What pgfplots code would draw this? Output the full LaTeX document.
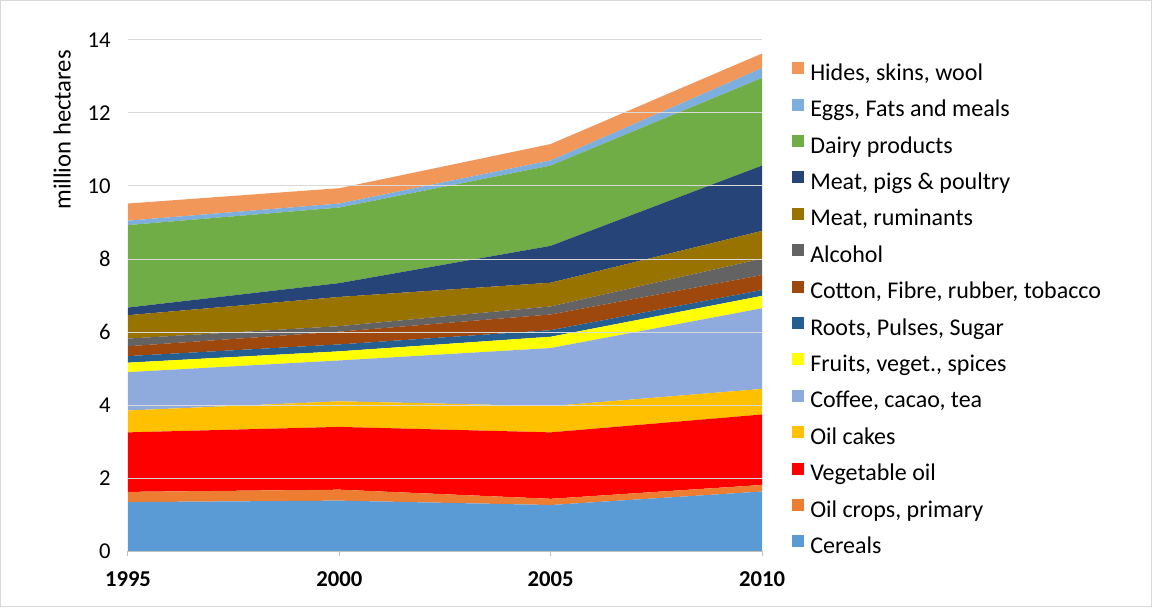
\documentclass[border=0pt]{standalone}
\usepackage{pgfplots}
\pgfplotsset{compat=1.18}
\usepackage{pgfplotstable}
\usepackage{fontspec}
\setmainfont{Carlito}
\definecolor{cCereals}{HTML}{5B9BD5}
\definecolor{cOilCrops}{HTML}{ED7D31}
\definecolor{cVegOil}{HTML}{FF0000}
\definecolor{cOilCakes}{HTML}{FFC000}
\definecolor{cCoffee}{HTML}{8FAADC}
\definecolor{cFruits}{HTML}{FFFF00}
\definecolor{cRoots}{HTML}{255E91}
\definecolor{cCotton}{HTML}{9E480E}
\definecolor{cAlcohol}{HTML}{636363}
\definecolor{cMeatRum}{HTML}{997300}
\definecolor{cMeatPigs}{HTML}{264478}
\definecolor{cDairy}{HTML}{70AD47}
\definecolor{cEggs}{HTML}{7CAFDD}
\definecolor{cHides}{HTML}{F1975A}
\definecolor{gridc}{HTML}{D9D9D9}
\definecolor{axc}{HTML}{BFBFBF}
\pgfplotstableread{
year Cereals OilCrops VegOil OilCakes Coffee Fruits Roots Cotton Alcohol MeatRum MeatPigs Dairy Eggs Hides
1995 1.34 0.28 1.63 0.60 1.05 0.26 0.18 0.27 0.21 0.64 0.21 2.26 0.12 0.47
2000 1.38 0.30 1.72 0.70 1.12 0.25 0.19 0.35 0.15 0.80 0.38 2.07 0.11 0.42
2005 1.26 0.17 1.82 0.72 1.59 0.31 0.18 0.43 0.22 0.65 1.01 2.20 0.14 0.45
2010 1.63 0.18 1.93 0.70 2.21 0.34 0.16 0.41 0.45 0.76 1.79 2.40 0.27 0.40
}\data
\begin{document}
\begin{tikzpicture}
\begin{axis}[
  scale only axis,
  width=475.5pt, height=383.25pt,
  xmin=1995, xmax=2010, ymin=0, ymax=14,
  stack plots=y,
  area style,
  xtick={1995,2000,2005,2010},
  ytick={0,2,...,14},
  xticklabel style={font=\fontsize{17}{20}\selectfont\bfseries, yshift=-8pt},
  yticklabel style={font=\fontsize{17}{20}\selectfont, xshift=-5.5pt},
  /pgf/number format/assume math mode=true,
  /pgf/number format/1000 sep={},
  ymajorgrids,
  grid style={draw=gridc, line width=0.75pt},
  axis x line*=bottom,
  axis y line*=left,
  x axis line style={draw=axc, line width=0.75pt, -},
  y axis line style={draw=none},
  xtick style={draw=axc, line width=0.75pt},
  ytick style={draw=none},
  tick align=outside,
  major tick length=4pt,
  ylabel={million hectares},
  ylabel style={font=\fontsize{18.5}{22}\selectfont, at={(axis description cs:-0.104,0.824)}, anchor=center},
  reverse legend,
  legend cell align=left,
  legend image code/.code={\fill[#1] (0pt,0.5pt) rectangle (9pt,9.5pt);},
  legend style={draw=none, fill=none, at={(axis description cs:1.0473,0.957)}, anchor=north west,
    font=\fontsize{18}{21}\selectfont, row sep=9.3pt, inner sep=0pt,
    nodes={inner xsep=4.5pt, inner ysep=0pt, text height=12.5pt, text depth=4.5pt}},
]
\addplot[fill=cCereals, draw=none] table[x=year, y=Cereals] {\data} \closedcycle;
\addlegendentry{Cereals}
\addplot[fill=cOilCrops, draw=none] table[x=year, y=OilCrops] {\data} \closedcycle;
\addlegendentry{Oil crops, primary}
\addplot[fill=cVegOil, draw=none] table[x=year, y=VegOil] {\data} \closedcycle;
\addlegendentry{Vegetable oil}
\addplot[fill=cOilCakes, draw=none] table[x=year, y=OilCakes] {\data} \closedcycle;
\addlegendentry{Oil cakes}
\addplot[fill=cCoffee, draw=none] table[x=year, y=Coffee] {\data} \closedcycle;
\addlegendentry{Coffee, cacao, tea}
\addplot[fill=cFruits, draw=none] table[x=year, y=Fruits] {\data} \closedcycle;
\addlegendentry{Fruits, veget., spices}
\addplot[fill=cRoots, draw=none] table[x=year, y=Roots] {\data} \closedcycle;
\addlegendentry{Roots, Pulses, Sugar}
\addplot[fill=cCotton, draw=none] table[x=year, y=Cotton] {\data} \closedcycle;
\addlegendentry{Cotton, Fibre, rubber, tobacco}
\addplot[fill=cAlcohol, draw=none] table[x=year, y=Alcohol] {\data} \closedcycle;
\addlegendentry{Alcohol}
\addplot[fill=cMeatRum, draw=none] table[x=year, y=MeatRum] {\data} \closedcycle;
\addlegendentry{Meat, ruminants}
\addplot[fill=cMeatPigs, draw=none] table[x=year, y=MeatPigs] {\data} \closedcycle;
\addlegendentry{Meat, pigs \& poultry}
\addplot[fill=cDairy, draw=none] table[x=year, y=Dairy] {\data} \closedcycle;
\addlegendentry{Dairy products}
\addplot[fill=cEggs, draw=none] table[x=year, y=Eggs] {\data} \closedcycle;
\addlegendentry{Eggs, Fats and meals}
\addplot[fill=cHides, draw=none] table[x=year, y=Hides] {\data} \closedcycle;
\addlegendentry{Hides, skins, wool}
\end{axis}
\draw[draw=gridc, line width=0.75pt] (-95.4pt,-41.4pt) rectangle (767.4pt,412.65pt);
\useasboundingbox (-96pt,-42pt) rectangle (768pt,413.25pt);
\end{tikzpicture}
\end{document}
